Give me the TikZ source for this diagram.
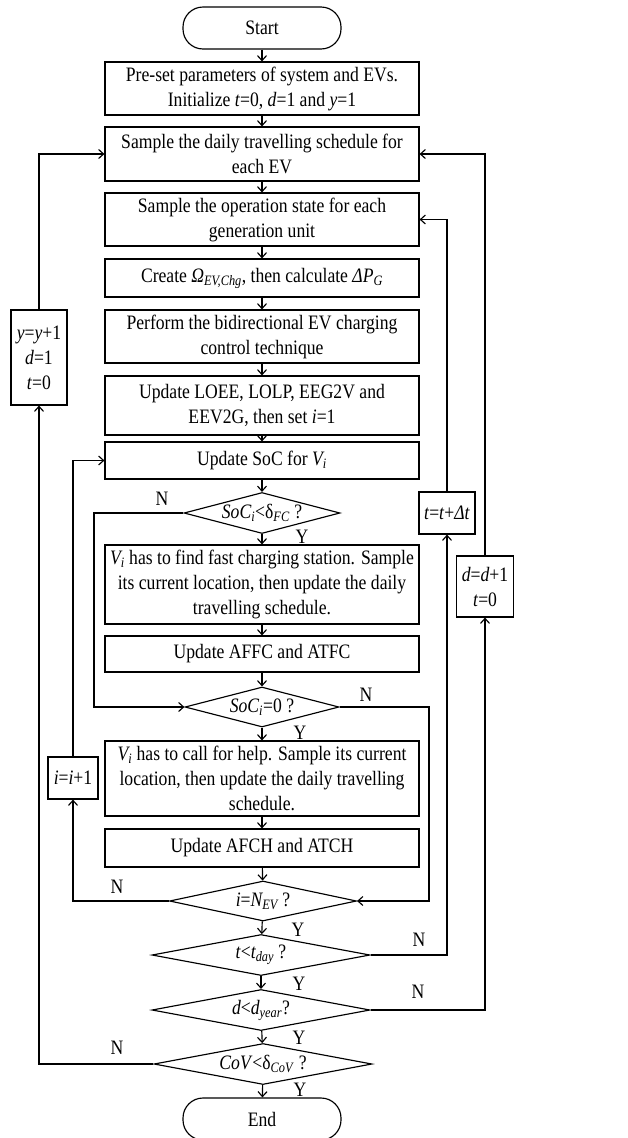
\documentclass[tikz,border=0pt]{standalone}
\usepackage{fontspec}
\setmainfont{Liberation Serif}[FakeStretch=0.86]
\usetikzlibrary{arrows.meta,shapes.geometric}

\begin{document}
\begin{tikzpicture}[x=1pt,y=-1pt, line width=1.15pt,
  font=\fontsize{20.5}{25}\selectfont,
  box/.style={draw, rectangle, minimum width=314pt, inner sep=0pt, align=center},
  sidebox/.style={draw, rectangle, inner sep=0pt, align=center},
  term/.style={draw, rectangle, rounded corners=20pt, minimum width=158pt, minimum height=42pt, inner sep=0pt},
  dec/.style={draw, diamond, inner sep=0pt, minimum width=#1, minimum height=41pt},
  arr/.style={-{Straight Barb[length=5pt,width=9pt]}},
  yn/.style={inner sep=0pt}
]
\useasboundingbox (0,0) rectangle (628,1138);

% main column
\node[term] (start) at (262,28) {Start};
\node[box, minimum height=53pt] (b1) at (262,88.5) {Pre-set parameters of system and EVs.\\ Initialize \textit{t}=0, \textit{d}=1 and \textit{y}=1};
\node[box, minimum height=54pt] (b2) at (262,154) {Sample the daily travelling schedule for\\ each EV};
\node[box, minimum height=53pt] (b3) at (262,219.5) {Sample the operation state for each\\ generation unit};
\node[box, minimum height=38pt] (b4) at (262,278) {Create \textit{Ω\textsubscript{EV,Chg}}, then calculate \textit{ΔP\textsubscript{G}}};
\node[box, minimum height=53pt] (b5) at (262,336.5) {Perform the bidirectional EV charging\\ control technique};
\node[box, minimum height=59pt] (b6) at (262,405.5) {Update LOEE, LOLP, EEG2V and\\ EEV2G, then set \textit{i}=1};
\node[box, minimum height=37pt] (b7) at (262,460.5) {Update SoC for \textit{V\textsubscript{i}}};
\node[dec=156pt, label=center:{\textit{SoC\textsubscript{i}}<δ\textsubscript{\textit{FC}} ?}] (d1) at (262,513) {};
\node[box, minimum height=79pt] (b8) at (262,584.5) {\textit{V\textsubscript{i}} has to find fast charging station. Sample\\ its current location, then update the daily\\ travelling schedule.};
\node[box, minimum height=36pt] (b9) at (262,654) {Update AFFC and ATFC};
\node[dec=154pt, minimum height=40pt, label=center:{\textit{SoC\textsubscript{i}}=0 ?}] (d2) at (262,707) {};
\node[box, minimum height=75pt] (b10) at (262,778.5) {\textit{V\textsubscript{i}} has to call for help. Sample its current\\ location, then update the daily travelling\\ schedule.};
\node[box, minimum height=38pt] (b11) at (262,848) {Update AFCH and ATCH};
\node[dec=187pt, minimum height=40pt, label=center:{\textit{i}=\textit{N\textsubscript{EV}} ?}] (d3) at (263,901) {};
\node[dec=218pt, label=center:{\textit{t}<\textit{t\textsubscript{day}} ?}] (d4) at (261,955) {};
\node[dec=218pt, label=center:{\textit{d}<\textit{d\textsubscript{year}}?}] (d5) at (261,1010) {};
\node[dec=218pt, label=center:{\textit{CoV}<δ\textsubscript{\textit{CoV}} ?}] (d6) at (263,1064) {};
\node[term] (end) at (262,1119) {End};

% counters beside the column
\node[sidebox, minimum width=56pt, minimum height=95pt] (yb) at (39,357.5) {\textit{y}=\textit{y}+1\\ \textit{d}=1\\ \textit{t}=0};
\node[sidebox, minimum width=50pt, minimum height=42pt] (ib) at (73,778) {\textit{i}=\textit{i}+1};
\node[sidebox, minimum width=56pt, minimum height=42pt] (tb) at (447,513) {\textit{t}=\textit{t}+\textit{Δt}};
\node[sidebox, minimum width=57pt, minimum height=61pt] (db) at (485,586.5) {\textit{d}=\textit{d}+1\\ \textit{t}=0};

% downward flow
\foreach \a/\b in {start/b1,b1/b2,b2/b3,b3/b4,b4/b5,b5/b6,b6/b7,b7/d1,d1/b8,b8/b9,b9/d2,d2/b10,b10/b11,b11/d3,d3/d4,d4/d5,d5/d6,d6/end}
  \draw[arr] (\a) -- (\b);

% loops
\coordinate (c1) at (94,513);
\coordinate (c2) at (429,901);
\draw[arr] (d1.west) -- (c1) |- (d2.west);
\draw[arr] (d2.east) -| (c2) -- (d3.east);
\draw[arr] (d3.west) -| (ib.south);
\draw[arr] (ib.north) |- (b7.west);
\draw[arr] (d4.east) -| (tb.south);
\draw[arr] (tb.north) |- (b3.east);
\draw[arr] (d5.east) -| (db.south);
\draw[arr] (db.north) |- (b2.east);
\draw[arr] (d6.west) -| (yb.south);
\draw[arr] (yb.north) |- (b2.west);

% branch labels
\node[yn] (n1) at (162,499) {N};
\node[yn] (y1) at (302,537) {Y};
\node[yn] (n2) at (366,695) {N};
\node[yn] (y2) at (300,733) {Y};
\node[yn] (n3) at (117,887) {N};
\node[yn] (y3) at (298,930) {Y};
\node[yn] (n4) at (419,940) {N};
\node[yn] (y4) at (299,984) {Y};
\node[yn] (n5) at (418,992) {N};
\node[yn] (y5) at (299,1038) {Y};
\node[yn] (n6) at (117,1048) {N};
\node[yn] (y6) at (300,1090) {Y};
\end{tikzpicture}
\end{document}
